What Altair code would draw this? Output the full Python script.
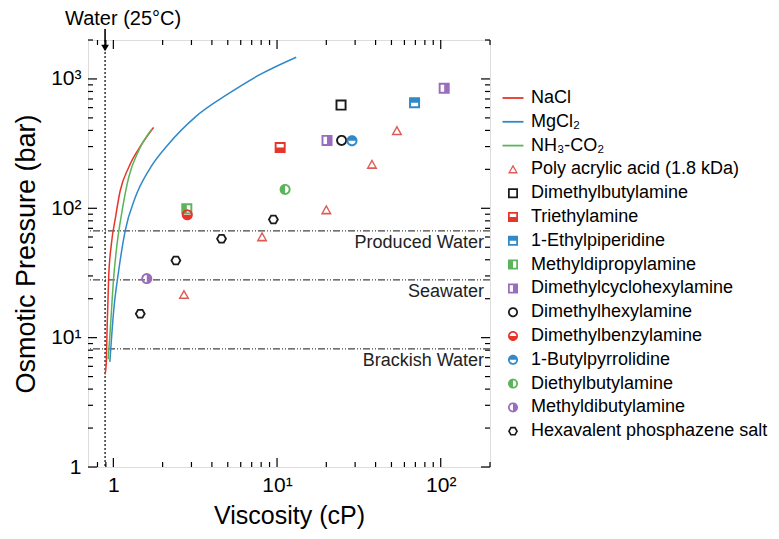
import math
import altair as alt
import pandas as pd

FONT = "Liberation Sans"
W, H = 402, 427

# ---------------- data ----------------
nacl_x = [0.89, 0.905, 0.916, 0.936, 0.972, 1.03, 1.10, 1.24, 1.49, 1.76]
nacl_y = [5.2, 6.4, 11.9, 29, 52.6, 84.8, 136, 207, 313, 422]
mgcl2_x = [0.952, 1.004, 1.077, 1.18, 1.36, 1.64, 2.17, 3.15, 5.02, 8.0, 13.1]
mgcl2_y = [6.5, 16, 32.7, 66.7, 121, 195, 313, 505, 765, 1093, 1472]
nh3_x = [0.93, 0.959, 1.004, 1.053, 1.13, 1.24, 1.425, 1.72]
nh3_y = [6.8, 11.9, 29, 52.6, 95, 173, 278, 410]

paa_x = [2.7, 8.1, 20, 38, 54]
paa_y = [21.5, 60, 97, 218, 397]
dmba_x, dmba_y = [24.6], [628]
tea_x, tea_y = [10.45], [295]
ep_x, ep_y = [69.2], [655]
mdpa_x, mdpa_y = [2.81], [99]
dmcha_x, dmcha_y = [20.2, 105], [335, 847]
dmha_x, dmha_y = [24.8], [335]
dmbza_x, dmbza_y = [2.83], [89]
bp_x, bp_y = [28.7], [333]
deba_x, deba_y = [11.2], [140]
mdba_x, mdba_y = [1.6], [28.6]
hps_x = [1.46, 2.41, 4.58, 9.5]
hps_y = [15.3, 39.5, 58.2, 82]

level_names = ["Produced Water", "Seawater", "Brackish Water"]
level_values = [67, 28, 8.2]

water_x = [0.89]
water_label = ["Water (25°C)"]

x_major = [1, 10, 100]
x_minor = [0.8, 0.9, 2, 3, 4, 5, 6, 7, 8, 9, 20, 30, 40, 50, 60, 70, 80, 90, 200]
y_major = [1, 10, 100, 1000]
y_minor = [2, 3, 4, 5, 6, 7, 8, 9, 20, 30, 40, 50, 60, 70, 80, 90,
           200, 300, 400, 500, 600, 700, 800, 900, 2000]

series_names = ["NaCl", "MgCl₂", "NH₃-CO₂", "Poly acrylic acid (1.8 kDa)",
                "Dimethylbutylamine", "Triethylamine", "1-Ethylpiperidine",
                "Methyldipropylamine", "Dimethylcyclohexylamine", "Dimethylhexylamine",
                "Dimethylbenzylamine", "1-Butylpyrrolidine", "Diethylbutylamine",
                "Methyldibutylamine", "Hexavalent phosphazene salt"]

RED, BLUE, GREEN, BLACK, PURPLE, TRI = "#e6362c", "#3189c8", "#5cb45a", "#1a1a1a", "#9a6cbd", "#e05a55"
series_colors = [RED, BLUE, GREEN, TRI, BLACK, RED, BLUE, GREEN, PURPLE, BLACK,
                 RED, BLUE, GREEN, PURPLE, BLACK]


# ---------------- marker paths (outline + half fills as holes) ----------------
def poly(pts):
    return "M" + "L".join(f"{x:.3f},{y:.3f}" for x, y in pts) + "Z"


def arc(r, a0, a1, n=36):
    return [(r * math.cos(math.radians(a0 + (a1 - a0) * i / n)),
             r * math.sin(math.radians(a0 + (a1 - a0) * i / n))) for i in range(n + 1)]


IN = 0.65
LINE = "M-2.1,-0.18H2.1V0.18H-2.1Z"
SQ = "M-1,-1H1V1H-1Z"
SQ_OPEN = SQ + f" M-{IN},-{IN}V{IN}H{IN}V-{IN}Z"
SQ_BOTTOM = SQ + f" M-{IN},-{IN}V0H{IN}V-{IN}Z"
SQ_TOP = SQ + f" M-{IN},0V{IN}H{IN}V0Z"
SQ_LEFT = SQ + f" M0,-{IN}V{IN}H{IN}V-{IN}Z"
SQ_RIGHT = SQ + f" M-{IN},-{IN}V{IN}H0V-{IN}Z"
CI = poly(arc(1, 0, 360))
CI_OPEN = CI + " " + poly(arc(IN, 360, 0))
CI_BOTTOM = CI + " " + poly(arc(IN, 360, 180, 18))
CI_TOP = CI + " " + poly(arc(IN, 180, 0, 18))
CI_LEFT = CI + " " + poly(arc(IN, 90, -90, 18))
CI_RIGHT = CI + " " + poly(arc(IN, 270, 90, 18))
TRI_OPEN = "M0,-1L1,0.8L-1,0.8Z M0,-0.45L-0.56,0.52L0.56,0.52Z"
HEX = poly([(math.cos(math.radians(a)), math.sin(math.radians(a))) for a in range(0, 360, 60)])
HEX_OPEN = HEX + " " + poly([(0.62 * math.cos(math.radians(a)), 0.62 * math.sin(math.radians(a)))
                             for a in range(360, 0, -60)])

series_shapes = [LINE, LINE, LINE, TRI_OPEN, SQ_OPEN, SQ_BOTTOM, SQ_TOP, SQ_LEFT, SQ_RIGHT,
                 CI_OPEN, CI_BOTTOM, CI_TOP, CI_LEFT, CI_RIGHT, HEX_OPEN]

# ---------------- tables ----------------
line_sets = [("NaCl", nacl_x, nacl_y), ("MgCl₂", mgcl2_x, mgcl2_y), ("NH₃-CO₂", nh3_x, nh3_y)]
lines_df = pd.DataFrame([{"series": s, "x": x, "y": y, "i": i}
                         for s, xs, ys in line_sets for i, (x, y) in enumerate(zip(xs, ys))])

point_sets = [
    ("Poly acrylic acid (1.8 kDa)", paa_x, paa_y), ("Dimethylbutylamine", dmba_x, dmba_y),
    ("Triethylamine", tea_x, tea_y), ("1-Ethylpiperidine", ep_x, ep_y),
    ("Methyldipropylamine", mdpa_x, mdpa_y), ("Dimethylcyclohexylamine", dmcha_x, dmcha_y),
    ("Dimethylhexylamine", dmha_x, dmha_y), ("Dimethylbenzylamine", dmbza_x, dmbza_y),
    ("1-Butylpyrrolidine", bp_x, bp_y), ("Diethylbutylamine", deba_x, deba_y),
    ("Methyldibutylamine", mdba_x, mdba_y), ("Hexavalent phosphazene salt", hps_x, hps_y),
]
points_df = pd.DataFrame([{"series": s, "x": x, "y": y}
                          for s, xs, ys in point_sets for x, y in zip(xs, ys)])

levels_df = pd.DataFrame({"y": level_values, "label": level_names})
water_df = pd.DataFrame({"x": water_x, "label": water_label})

# ---------------- encodings ----------------
axis_common = dict(ticks=False, domain=False, grid=False, labelFontSize=21,
                   labelColor="black", titleColor="black", titleFontWeight="normal",
                   labelFont=FONT, titleFont=FONT, labelOverlap=False)
xenc = alt.X("x:Q", scale=alt.Scale(type="log", domain=[0.7, 200], nice=False),
             axis=alt.Axis(values=x_major, title="Viscosity (cP)", labelPadding=7, titlePadding=8,
                           titleFontSize=25,
                           labelExpr="datum.value == 1 ? '1' : datum.value == 10 ? '10¹' : '10²'",
                           **axis_common))
yenc = alt.Y("y:Q", scale=alt.Scale(type="log", domain=[1, 2000], nice=False),
             axis=alt.Axis(values=y_major, title="Osmotic Pressure (bar)", labelPadding=7, titlePadding=10,
                           titleFontSize=27,
                           labelExpr="datum.value == 1 ? '1' : datum.value == 10 ? '10¹' : datum.value == 100 ? '10²' : '10³'",
                           **axis_common))

legend = alt.Legend(title=None, orient="none", legendX=416, legendY=49, symbolSize=100,
                    labelFontSize=18, labelFont=FONT, labelColor="black", rowPadding=5.8,
                    labelOffset=9, symbolStrokeWidth=0, labelLimit=400, padding=0)

# ---------------- layers ----------------
tick_layers = []
for vals, ln in ((x_major, 9), (x_minor, 5)):
    base = alt.Chart(pd.DataFrame({"x": vals})).mark_rule(color="black", strokeWidth=1.2)
    tick_layers.append(base.encode(x=xenc, y=alt.value(H), y2=alt.value(H - ln)))
    tick_layers.append(base.encode(x=xenc, y=alt.value(0), y2=alt.value(ln)))
for vals, ln in ((y_major, 9), (y_minor, 5)):
    base = alt.Chart(pd.DataFrame({"y": vals})).mark_rule(color="black", strokeWidth=1.2)
    tick_layers.append(base.encode(y=yenc, x=alt.value(0), x2=alt.value(ln)))
    tick_layers.append(base.encode(y=yenc, x=alt.value(W), x2=alt.value(W - ln)))

hlines = alt.Chart(levels_df).mark_rule(color="#444444", strokeWidth=1.2,
                                        strokeDash=[7, 2, 1, 2, 1, 2]).encode(y=yenc)
hlabels = alt.Chart(levels_df).mark_text(align="right", baseline="middle", dy=12, fontSize=18,
                                         font=FONT, color="#222222").encode(
    x=alt.value(W - 6), y=yenc, text="label:N")

vline = alt.Chart(water_df).mark_rule(color="black", strokeWidth=1.2, strokeDash=[2, 2]).encode(x=xenc)
arrow = alt.Chart(water_df).mark_rule(color="black", strokeWidth=1.6).encode(
    x=xenc, y=alt.value(-11), y2=alt.value(5))
head = alt.Chart(water_df).mark_point(shape="triangle-down", filled=True, size=60, color="black",
                                      opacity=1).encode(x=xenc, y=alt.value(8))
wtext = alt.Chart(water_df).mark_text(fontSize=20, font=FONT, align="center", baseline="middle",
                                      dx=18, color="black").encode(x=xenc, y=alt.value(-21), text="label:N")

curves = alt.Chart(lines_df).mark_line(strokeWidth=1.5, interpolate="monotone").encode(
    x=xenc, y=yenc, order="i:Q",
    stroke=alt.Stroke("series:N", scale=alt.Scale(domain=[s for s, _, _ in line_sets],
                                                  range=[RED, BLUE, GREEN]), legend=None))

points = alt.Chart(points_df).mark_point(filled=True, size=121, opacity=1, strokeWidth=0).encode(
    x=xenc, y=yenc,
    fill=alt.Fill("series:N", scale=alt.Scale(domain=series_names, range=series_colors), legend=legend),
    shape=alt.Shape("series:N", scale=alt.Scale(domain=series_names, range=series_shapes), legend=legend),
)

chart = alt.layer(*tick_layers, hlines, hlabels, vline, arrow, head, wtext, curves, points).properties(
    width=W, height=H,
    autosize=alt.AutoSizeParams(type="none"),
    padding={"left": 80, "top": 32, "right": 281, "bottom": 64},
).configure_view(stroke="black", strokeWidth=1.5).configure(font=FONT)

chart.save("out.html", embed_options={"renderer": "svg", "actions": False})
